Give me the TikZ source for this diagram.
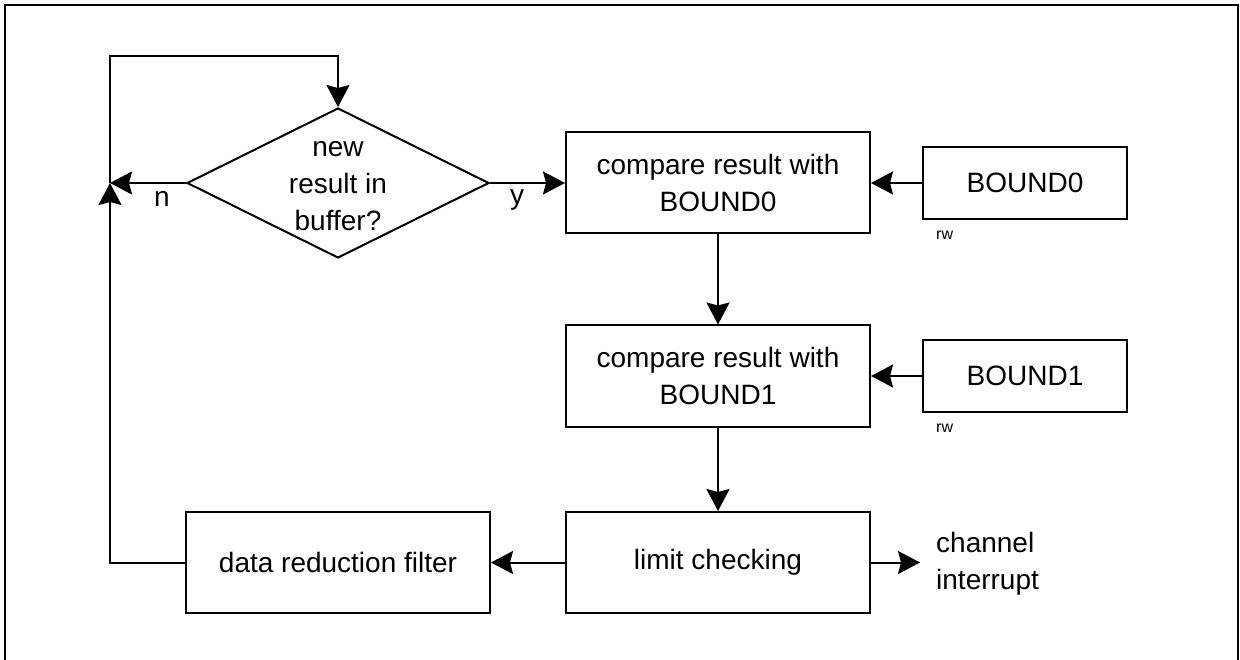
\documentclass[tikz,border=0pt]{standalone}
\usepackage{fontspec}
\setmainfont{Liberation Sans}
\usetikzlibrary{shapes.geometric,arrows.meta}
\begin{document}
\begin{tikzpicture}[x=1pt,y=-1pt,
  every node/.style={font=\fontsize{28}{37}\selectfont},
  procbox/.style={draw,line width=2pt,minimum width=304pt,minimum height=101pt,inner sep=0pt,align=center},
  regbox/.style={draw,line width=2pt,minimum width=204pt,minimum height=72pt,inner sep=0pt,align=center},
  decbox/.style={draw,diamond,line width=2pt,minimum width=302pt,minimum height=150pt,inner sep=0pt},
  lbl/.style={inner sep=0pt,anchor=base},
  small/.style={font=\fontsize{16}{19}\selectfont,inner sep=0pt,anchor=base west},
  arr/.style={line width=2pt,-{Stealth[length=22pt,width=23pt,inset=3pt]}},
  ln/.style={line width=2pt}]
\useasboundingbox (0,0) rectangle (1240,660);
\draw[line width=2.5pt] (5,662) -- (5,5) -- (1238,5) -- (1238,662);

\node[decbox] (d) at (338,183) {};
\node[align=center,inner sep=0pt] (dtext) at (338,186) {new\\result in\\buffer?};

\node[procbox] (c0) at (718,183) {compare result with\\BOUND0};
\node[procbox] (c1) at (718,376) {compare result with\\BOUND1};
\node[procbox] (lim) at (718,562.5) {limit checking};
\node[procbox] (filt) at (338,562.5) {data reduction filter};

\node[regbox] (b0) at (1025,183) {BOUND0};
\node[regbox] (b1) at (1025,376) {BOUND1};
\node[small] (rw0) at (936,240) {rw};
\node[small] (rw1) at (936,432) {rw};

\node[align=left,inner sep=0pt,anchor=west] (chint) at (936,564) {channel\\interrupt};

\coordinate (jn) at (110,183);
\coordinate (tl) at (110,56);

\draw[arr] (d.west) -- (jn);
\node[lbl] (nlab) at (162,207) {n};
\draw[arr] (d.east) -- (c0.west);
\node[lbl] (ylab) at (517,205) {y};
\draw[arr] (b0.west) -- (c0.east);
\draw[arr] (b1.west) -- (c1.east);
\draw[arr] (c0.south) -- (c1.north);
\draw[arr] (c1.south) -- (lim.north);
\draw[arr] (lim.west) -- (filt.east);
\draw[arr,shorten >=16pt] (lim.east) -- (lim.east -| chint.west);
\draw[arr] (filt.west) -| (jn);
\draw[arr] (jn) -- (tl) -| (d.north);
\end{tikzpicture}
\end{document}
